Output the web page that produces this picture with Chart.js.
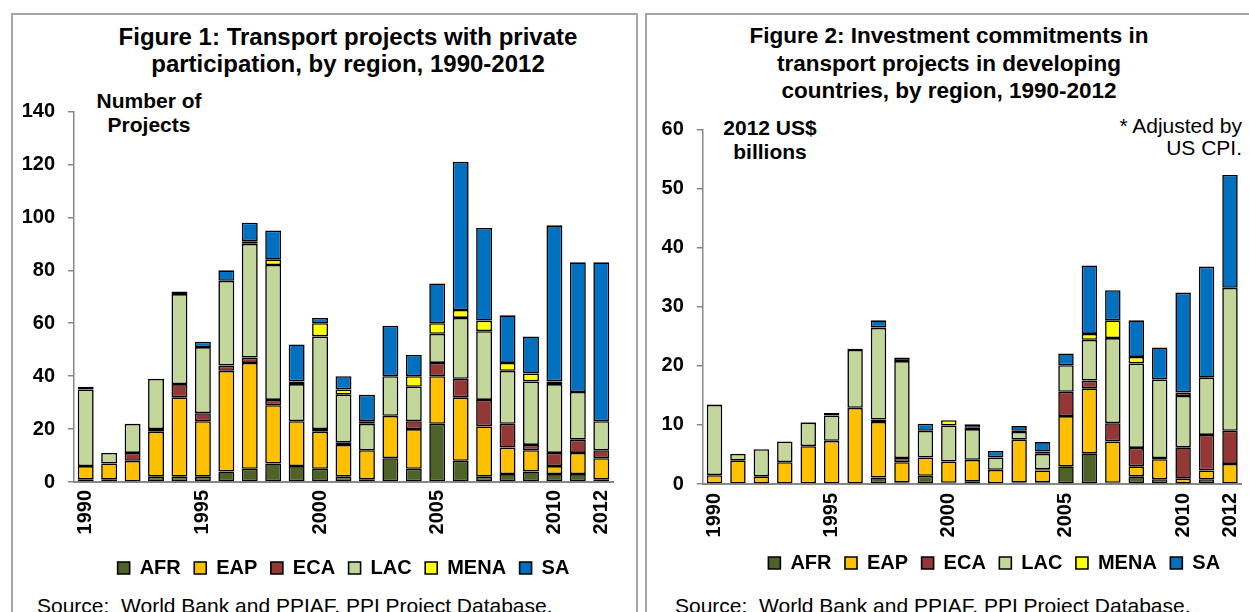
<!DOCTYPE html>
<html><head><meta charset="utf-8">
<script src="https://cdn.jsdelivr.net/npm/chart.js@4.4.1/dist/chart.umd.min.js"></script>
<style>
body{margin:0;width:1249px;height:612px;overflow:hidden;background:#fff;font-family:'Liberation Sans',Arial,sans-serif;position:relative}
.panel{position:absolute;border:2px solid #a6a6a6;box-sizing:border-box}
.t{position:absolute;white-space:nowrap;color:#000}
.c{transform:translateX(-50%);text-align:center}
canvas{position:absolute}
</style></head><body>
<div class="panel" style="left:11px;top:13px;width:627px;height:640px"></div>
<div class="panel" style="left:645px;top:13px;width:640px;height:640px"></div>

<div class="t c" style="left:348px;top:23px;font-size:24px;font-weight:bold;line-height:27px">Figure 1: Transport projects with private<br>participation, by region, 1990-2012</div>
<div class="t c" style="left:149px;top:89px;font-size:21px;font-weight:bold;line-height:24px">Number of<br>Projects</div>
<div class="t" style="left:37px;top:595px;font-size:21px;line-height:22px">Source:&nbsp; World Bank and PPIAF, PPI Project Database.</div>

<div class="t c" style="left:949px;top:22px;font-size:22.5px;font-weight:bold;line-height:27.5px">Figure 2: Investment commitments in<br>transport projects in developing<br>countries, by region, 1990-2012</div>
<div class="t c" style="left:770px;top:116px;font-size:21px;font-weight:bold;line-height:24px">2012 US$<br>billions</div>
<div class="t" style="right:7px;top:115px;font-size:21px;line-height:22px;text-align:right">* Adjusted by<br>US CPI.</div>
<div class="t" style="left:675px;top:595px;font-size:21px;line-height:22px">Source:&nbsp; World Bank and PPIAF, PPI Project Database.</div>

<canvas id="c1" width="625" height="576" style="left:12px;top:14px"></canvas>
<canvas id="c2" width="603" height="571" style="left:646px;top:14px"></canvas>

<script>
// ---------- data ----------
const years = ['1990','1991','1992','1993','1994','1995','1996','1997','1998','1999','2000','2001','2002','2003','2004','2005','2006','2007','2008','2009','2010','2011','2012'];
const xTickLabels = ['1990','1995','2000','2005','2010','2012'];
const regions = ['AFR','EAP','ECA','LAC','MENA','SA'];

// Figure 1: number of projects
const fig1AFR  = [1,1,0,2,2,2,4,5,7,6,5,2,1,9,5,22,8,2,3,4,3,3,1];
const fig1EAP  = [5,6,8,17,30,21,38,40,22,17,14,12,11,16,15,18,24,19,10,8,3,8,8];
const fig1ECA  = [0,0,3,1,5,3,2,2,2,0,1,1,0,0,3,5,7,10,9,2,5,5,3];
const fig1LAC  = [29,4,11,19,34,25,32,43,51,14,35,18,10,15,13,11,23,26,20,24,26,18,11];
const fig1MENA = [0,0,0,0,0,0,0,1,2,1,5,2,1,0,4,4,3,4,3,3,1,0,0];
const fig1SA   = [1,0,0,0,1,2,4,7,11,14,2,5,10,19,8,15,56,35,18,14,59,49,60];
const fig1Ticks = [0,20,40,60,80,100,120,140];

// Figure 2: investment commitments, 2012 US$ billions
const fig2AFR  = [0,0,0,0,0,0,0,1.1,0.3,1.4,0.2,0.4,0,0.3,0.3,3.0,5.2,0.2,1.3,0.8,0.1,0.8,0];
const fig2EAP  = [1.5,4.0,1.3,3.7,6.4,7.3,12.9,9.4,3.4,3.1,3.6,3.7,2.4,7.2,2.0,8.5,11.0,7.0,1.7,3.4,0.8,1.5,3.4];
const fig2ECA  = [0,0,0,0,0,0,0,0.4,0.7,0,0,0,0,0,0.2,4.1,1.3,3.1,3.1,0.2,5.3,6.0,5.6];
const fig2LAC  = [11.9,1.1,4.6,3.5,4.0,4.3,9.8,15.5,16.4,4.5,6.1,5.2,2.1,1.3,2.6,4.5,6.9,14.4,14.3,13.3,8.7,9.7,24.2];
const fig2MENA = [0,0,0,0,0,0,0,0.1,0,0,0.9,0.2,0,0.2,0.4,0,1.0,3.0,1.1,0,0.6,0,0];
const fig2SA   = [0.1,0,0,0,0.1,0.4,0.2,1.2,0.6,1.2,0,0.6,1.1,0.8,1.6,2.0,11.6,5.1,6.2,5.4,16.9,18.8,19.1];
const fig2Ticks = [0,10,20,30,40,50,60];

// ---------- styling ----------
const colors = ['#4F6228','#FFC000','#953735','#C4D79B','#FFFF00','#0070C0'];
Chart.defaults.font.family = "'Liberation Sans', Arial, sans-serif";
Chart.defaults.color = '#000';

function makeDatasets(series, barPct){
  return series.map((d,i)=>({
    label: regions[i], data: d, backgroundColor: colors[i],
    borderColor: '#000', borderWidth: 1.6, borderSkipped: false,
    barPercentage: barPct, categoryPercentage: 1
  }));
}
function legendShift(dx){
  return {id:'legendShift', afterLayout(chart){ if(chart.legend){ chart.legend.left += dx; chart.legend.right += dx; } }};
}
function makeChart(id, series, ticks, opt){
  return new Chart(document.getElementById(id), {
    type: 'bar',
    data: { labels: years, datasets: makeDatasets(series, opt.barPct) },
    plugins: [legendShift(opt.legendDx)],
    options: {
      responsive: false, animation: false,
      layout: { padding: opt.pad },
      plugins: {
        tooltip: {enabled:false},
        legend: {
          position: 'bottom', fullSize: false,
          labels: { boxWidth: 12, boxHeight: 12, padding: 13.5, color: '#000', font: {size: 20, weight: 'bold'} }
        }
      },
      scales: {
        x: {
          stacked: true,
          grid: {display: false, drawTicks: false},
          border: {display: true, color: '#888', width: 2},
          ticks: {
            autoSkip: false, maxRotation: 90, minRotation: 90, padding: opt.xPad,
            color: '#000', font: {size: 20, weight: 'bold'},
            callback: (v, i) => xTickLabels.includes(years[i]) ? years[i] : ''
          },
          afterFit(s){ s.height = opt.xHeight; s.paddingLeft = 0; s.paddingRight = 0; }
        },
        y: {
          stacked: true, min: ticks[0], max: ticks[ticks.length-1],
          afterBuildTicks(s){ s.ticks = ticks.map(v => ({value: v})); },
          ticks: { color: '#000', font: {size: 20, weight: 'bold'}, padding: 13 },
          grid: { drawOnChartArea: false, drawTicks: true, tickLength: 6, color: '#888', lineWidth: 1.5 },
          border: { color: '#888', width: 1.5 },
          afterFit(s){ s.width = opt.yWidth; }
        }
      }
    }
  });
}

makeChart('c1', [fig1AFR, fig1EAP, fig1ECA, fig1LAC, fig1MENA, fig1SA], fig1Ticks,
  {barPct: 0.68, pad: {top: 97.5, right: 24, bottom: 2, left: 0}, yWidth: 62, xHeight: 62.5, xPad: 8, legendDx: 0});
makeChart('c2', [fig2AFR, fig2EAP, fig2ECA, fig2LAC, fig2MENA, fig2SA], fig2Ticks,
  {barPct: 0.66, pad: {top: 115.5, right: 7.3, bottom: 2, left: 0}, yWidth: 56.8, xHeight: 55.5, xPad: 9, legendDx: 22});
</script>
</body></html>
